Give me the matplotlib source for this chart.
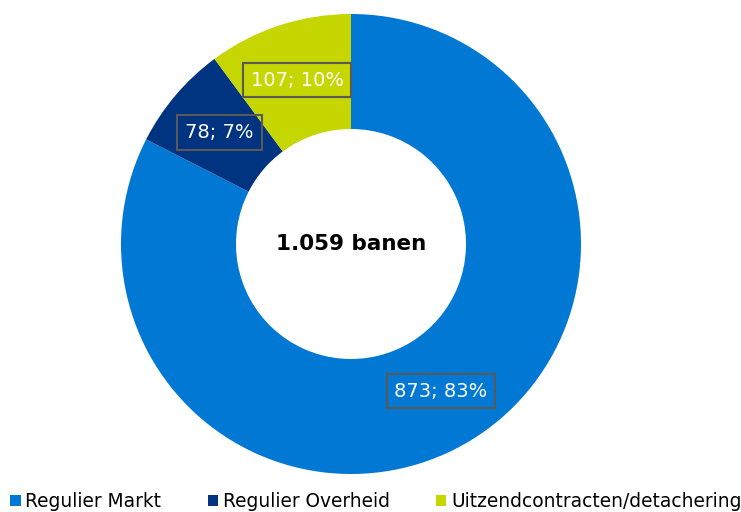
import numpy as np
import matplotlib.pyplot as plt

categories = ["Regulier Markt", "Regulier Overheid", "Uitzendcontracten/detachering"]
values = [873, 78, 107]
percents = [83, 7, 10]
colors = ["#0078D4", "#003380", "#C5D600"]
center_text = "1.059 banen"

fig = plt.figure(figsize=(7.41, 5.12), dpi=100)
ax = fig.add_axes([121 / 741, 38 / 512, 460 / 741, 460 / 512])

wedges, _ = ax.pie(values, colors=colors, startangle=90, counterclock=False,
                   radius=1, wedgeprops=dict(width=0.5, linewidth=0))
ax.set_xlim(-1, 1)
ax.set_ylim(-1, 1)
ax.set_aspect("equal")
ax.axis("off")

# labels sit halfway across the ring, in a grey outlined box
for w, v, p in zip(wedges, values, percents):
    ang = np.deg2rad((w.theta1 + w.theta2) / 2)
    x, y = 0.75 * np.cos(ang), 0.75 * np.sin(ang)
    ax.text(x, y, f"{v}; {p}%", ha="center", va="center", color="white", fontsize=14,
            bbox=dict(boxstyle="square,pad=0.4", facecolor="none", edgecolor="#595959", linewidth=1.5))

ax.text(0, 0, center_text, ha="center", va="center", fontsize=15.5, fontweight="bold")

leg = fig.legend(wedges, categories, loc="center left", bbox_to_anchor=(0.014, 0.02), ncol=3,
                 frameon=False, fontsize=13.4, handlelength=0.55, handleheight=0.55, handletextpad=0.25,
                 columnspacing=2.5, borderaxespad=0, borderpad=0)

fig.savefig("out.png", dpi=100)
